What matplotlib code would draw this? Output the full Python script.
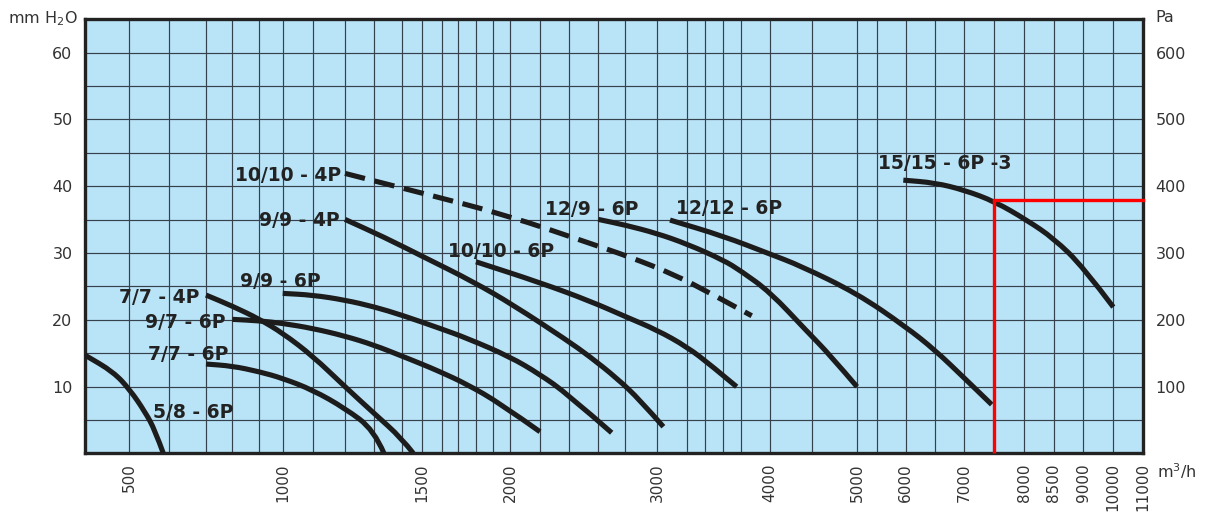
import numpy as np
import matplotlib
matplotlib.use("Agg")
import matplotlib.pyplot as plt
from matplotlib.path import Path
from matplotlib.patches import PathPatch

# ---------------- data (flow m3/h, pressure mm H2O) ----------------
q_5_8_6p = [400, 464, 502, 539, 564, 585]
h_5_8_6p = [14.7, 12.2, 9.48, 6.23, 3.49, 0.0]

q_7_7_4p = [700, 800, 900, 1000, 1100, 1200, 1300, 1400, 1458]
h_7_7_4p = [23.7, 22.05, 20.1, 18.0, 14.57, 9.97, 5.99, 2.25, 0.0]

q_9_7_6p = [800, 900, 1000, 1100, 1200, 1300, 1400, 1500, 1591, 1747, 1942, 2200]
h_9_7_6p = [20.06, 19.85, 19.46, 18.71, 17.56, 16.21, 14.57, 13.37, 12.22, 10.37, 7.49, 3.23]

q_7_7_6p = [700, 800, 900, 1000, 1100, 1200, 1300, 1336]
h_7_7_6p = [13.37, 13.07, 12.22, 11.23, 9.48, 6.74, 3.49, 0.0]

q_9_9_6p = [1000, 1100, 1200, 1300, 1400, 1591, 1747, 2000, 2200, 2382, 2699]
h_9_9_6p = [23.95, 23.7, 22.95, 21.95, 20.7, 18.71, 17.26, 14.46, 11.8, 8.98, 3.08]

q_9_9_4p = [1200, 1336, 1508, 1785, 2022, 2382, 2543, 2736, 2893, 3042]
h_9_9_4p = [35.03, 32.38, 29.43, 25.69, 22.2, 16.96, 14.46, 11.27, 7.98, 3.98]

q_10_10_6p = [1800, 2200, 2543, 2800, 3000, 3200, 3474, 3751]
h_10_10_6p = [28.68, 25.57, 22.8, 20.48, 18.46, 15.91, 13.07, 9.97]

q_10_10_4p = [1200, 1508, 1981, 2543, 2830, 3108, 3474, 3874]
h_10_10_4p = [41.92, 38.92, 35.67, 31.44, 29.39, 26.83, 23.86, 20.6]

q_12_9_6p = [2600, 2800, 3000, 3200, 3600, 3800, 4000, 4440, 4702, 5000]
h_12_9_6p = [35.03, 34.18, 32.93, 31.33, 28.94, 27.3, 24.15, 18.31, 14.72, 9.97]

q_12_12_6p = [3086, 3600, 4000, 4360, 5000, 6000, 6500, 7000, 7457]
h_12_12_6p = [34.93, 32.53, 29.84, 28.11, 23.95, 18.95, 15.46, 11.27, 7.3]

q_15_15_6p3 = [5958, 6500, 7000, 7512, 8041, 8500, 9000, 10000]
h_15_15_6p3 = [40.91, 40.51, 39.42, 37.69, 34.93, 32.19, 27.89, 21.9]

duty_flow = 7500
duty_head = 37.9

x_tick_values = [500, 1000, 1500, 2000, 3000, 4000, 5000, 6000, 7000,
                 8000, 8500, 9000, 10000, 11000]
x_tick_labels = [str(v) for v in x_tick_values]
y_tick_values = [10, 20, 30, 40, 50, 60]
pa_tick_values = [100, 200, 300, 400, 500, 600]

# ---------------- non-uniform flow scale of the original chart ----------------
scale_flow = [400, 500, 600, 700, 800, 900, 1000, 1100, 1200, 1300, 1400, 1500,
              1600, 1700, 1800, 1900, 2000, 2200, 2400, 2600, 2800, 3000, 3200,
              3400, 3600, 3800, 4000, 4500, 5000, 5500, 6000, 6500, 7000, 7500,
              8000, 8500, 9000, 10000, 11000]
scale_pos = [85, 129.3, 169.3, 206, 232.3, 259.3, 282.7, 312.7, 345, 374, 401.7,
             421.7, 441.7, 458.3, 476, 492.7, 510, 540, 569.3, 598.3, 625.3, 657,
             687.3, 705.3, 723.3, 741, 770, 811.7, 857, 877.3, 905.7, 935, 964.3,
             994.3, 1024.3, 1053.7, 1083.3, 1113.3, 1143]
SF = np.array(scale_flow, float)
SP = np.array(scale_pos, float)


def fwd(x):
    return np.interp(np.asarray(x, float), SF, SP)


def inv(p):
    return np.interp(np.asarray(p, float), SP, SF)


def smooth_path(q, h):
    """Path through the end points; inner read points act as quadratic Bezier
    controls.  Joining points are taken halfway in scale space so the curve
    stays smooth once drawn on the non-uniform axis."""
    u = fwd(q)
    h = np.asarray(h, float)
    n = len(u)

    def mid(i):
        return (float(inv((u[i] + u[i + 1]) / 2)), (h[i] + h[i + 1]) / 2)

    verts = [(q[0], h[0])]
    codes = [Path.MOVETO]
    if n == 2:
        verts.append((q[1], h[1])); codes.append(Path.LINETO)
        return Path(verts, codes)
    verts.append(mid(0)); codes.append(Path.LINETO)
    for i in range(1, n - 1):
        end = (q[i + 1], h[i + 1]) if i == n - 2 else mid(i)
        verts += [(q[i], h[i]), end]
        codes += [Path.CURVE3, Path.CURVE3]
    return Path(verts, codes)


# ---------------- figure ----------------
W, H = 1207, 512
fig = plt.figure(figsize=(W / 100, H / 100), dpi=100)
ax = fig.add_axes([85 / W, (H - 453.3) / H, (1143 - 85) / W, (453.3 - 19.3) / H])
ax.set_facecolor('#b9e3f6')
ax.set_xscale('function', functions=(fwd, inv))
ax.set_xlim(400, 11000)
ax.set_ylim(0, 65)

grid_col = '#35424e'
ax.set_xticks(x_tick_values)
ax.set_xticklabels(x_tick_labels, rotation=90)
ax.set_xticks(scale_flow, minor=True)
ax.set_yticks(y_tick_values)
ax.set_yticks(np.arange(5, 61, 5), minor=True)
ax.grid(True, which='both', color=grid_col, lw=0.85)
ax.set_axisbelow(True)
ax.tick_params(which='both', length=0)
ax.tick_params(axis='y', pad=9, labelsize=11.5, labelcolor='#333333')
ax.tick_params(axis='x', pad=7, labelsize=11, labelcolor='#333333')
for s in ax.spines.values():
    s.set_linewidth(2.4)
    s.set_color('#222222')

ax2 = ax.twinx()
ax2.set_ylim(0, 650)
ax2.set_yticks(pa_tick_values)
ax2.tick_params(length=0, pad=9, labelsize=11.5, labelcolor='#333333')
for s in ax2.spines.values():
    s.set_visible(False)

curves = [
    (q_5_8_6p, h_5_8_6p),
    (q_7_7_4p, h_7_7_4p),
    (q_9_7_6p, h_9_7_6p),
    (q_7_7_6p, h_7_7_6p),
    (q_9_9_6p, h_9_9_6p),
    (q_9_9_4p, h_9_9_4p),
    (q_10_10_6p, h_10_10_6p),
    (q_12_9_6p, h_12_9_6p),
    (q_12_12_6p, h_12_12_6p),
    (q_15_15_6p3, h_15_15_6p3),
]
for q, h in curves:
    ax.add_patch(PathPatch(smooth_path(q, h), fill=False, edgecolor='#1c1c1c',
                           lw=3.7, capstyle='butt', joinstyle='round', zorder=3,
                           transform=ax.transData))

ax.add_patch(PathPatch(smooth_path(q_10_10_4p, h_10_10_4p), fill=False,
                       edgecolor='#1c1c1c', lw=3.7, linestyle=(0, (4, 1.9)),
                       capstyle='butt', zorder=3, transform=ax.transData))

# duty point (red)
ax.plot([duty_flow, duty_flow], [0, duty_head], color='#ff0000', lw=2.4,
        solid_capstyle='butt', zorder=4, clip_on=False)
ax.plot([duty_flow, 11000], [duty_head, duty_head], color='#ff0000', lw=2.4,
        solid_capstyle='projecting', zorder=4, clip_on=False)

# labels
lab_kw = dict(textcoords='offset pixels', fontsize=13.5, fontweight='bold',
              color='#222222', va='center', zorder=5)


def label(text, q, h, dx, dy, ha):
    ax.annotate(text, xy=(q, h), xytext=(dx, dy), ha=ha, **lab_kw)


label('10/10 - 4P', q_10_10_4p[0], h_10_10_4p[0], -4, -2, 'right')
label('9/9 - 4P', q_9_9_4p[0], h_9_9_4p[0], -5, -1, 'right')
label('7/7 - 4P', q_7_7_4p[0], h_7_7_4p[0], -7, -2, 'right')
label('9/7 - 6P', q_9_7_6p[0], h_9_7_6p[0], -7, -3, 'right')
label('7/7 - 6P', q_7_7_6p[0], h_7_7_6p[0], 22.6, 10, 'right')
label('9/9 - 6P', q_9_9_6p[0], h_9_9_6p[0], 38.4, 11.6, 'right')
label('5/8 - 6P', q_5_8_6p[-1], h_5_8_6p[-1], -10, 40.6, 'left')
label('10/10 - 6P', q_10_10_6p[0], h_10_10_6p[0], -28.3, 10, 'left')
label('12/9 - 6P', q_12_9_6p[0], h_12_9_6p[0], -53.3, 10, 'left')
label('12/12 - 6P', q_12_12_6p[0], h_12_12_6p[0], 6, 12, 'left')
label('15/15 - 6P -3', q_15_15_6p3[0], h_15_15_6p3[0], -25.3, 16.7, 'left')

# axis unit labels
fig.text(8 / W, 1 - 19 / H, 'mm H$_2$O', ha='left', va='center', fontsize=11.5,
         color='#333333')
fig.text(1155 / W, 1 - 18 / H, 'Pa', ha='left', va='center', fontsize=11.5,
         color='#333333')
fig.text(1157 / W, 1 - 471 / H, 'm$^3$/h', ha='left', va='center', fontsize=11.5,
         color='#333333')

fig.savefig('out.png', dpi=100)
